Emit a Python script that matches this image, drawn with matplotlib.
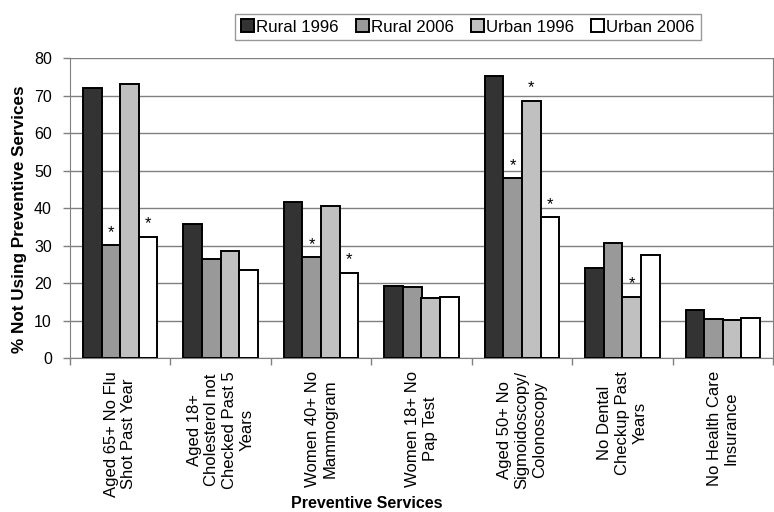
import matplotlib
matplotlib.use("Agg")
import matplotlib.pyplot as plt
import numpy as np

plt.rcParams['font.family'] = ['Liberation Sans', 'DejaVu Sans']

categories = [
    "Aged 65+ No Flu\nShot Past Year",
    "Aged 18+\nCholesterol not\nChecked Past 5\nYears",
    "Women 40+ No\nMammogram",
    "Women 18+ No\nPap Test",
    "Aged 50+ No\nSigmoidoscopy/\nColonoscopy",
    "No Dental\nCheckup Past\nYears",
    "No Health Care\nInsurance",
]
series_names = ["Rural 1996", "Rural 2006", "Urban 1996", "Urban 2006"]
rural_1996 = [72.2, 35.7, 41.8, 19.3, 75.4, 24.0, 12.9]
rural_2006 = [30.1, 26.6, 26.9, 19.0, 48.0, 30.8, 10.6]
urban_1996 = [73.2, 28.7, 40.6, 16.0, 68.6, 16.3, 10.1]
urban_2006 = [32.4, 23.5, 22.8, 16.3, 37.6, 27.6, 10.7]
# significance markers: (category index, series index)
significant = [(0, 1), (0, 3), (2, 1), (2, 3), (4, 1), (4, 2), (4, 3), (5, 2)]

colors = ["#333333", "#999999", "#c0c0c0", "#ffffff"]
values = [rural_1996, rural_2006, urban_1996, urban_2006]

fig = plt.figure(figsize=(7.74, 5.12), dpi=100)
ax = fig.add_axes([70/774, 1-358.3/512, 703/774, 300/512])

n = len(categories)
x = np.arange(n)
bw = 0.185
offsets = (np.arange(4) - 1.5) * bw
bars = []
for i, (vals, c, name) in enumerate(zip(values, colors, series_names)):
    b = ax.bar(x + offsets[i], vals, bw, color=c, edgecolor="black", linewidth=1.4,
               label=name, zorder=3)
    bars.append(b)

for ci, si in significant:
    v = values[si][ci]
    ax.annotate("*", (x[ci] + offsets[si], v), xytext=(0, 4), textcoords="offset points",
                ha="center", va="bottom", fontsize=12, zorder=4)

ax.set_xlim(-0.5, n - 0.5)
ax.set_ylim(0, 80)
ax.set_yticks(np.arange(0, 81, 10))
ax.yaxis.grid(True, color="#808080", linewidth=1.0, zorder=0)
ax.set_axisbelow(True)
for s in ["left", "bottom", "right"]:
    ax.spines[s].set_color("#808080")
ax.spines["top"].set_visible(False)
ax.tick_params(axis="y", colors="#808080", labelcolor="black", labelsize=11.5,
               length=5, width=1, pad=8)

ax.set_xticks(x)
ax.set_xticklabels(categories, rotation=90, fontsize=12, va="top", ha="center",
                   multialignment="center")
ax.tick_params(axis="x", which="major", length=0, pad=9)
ax.set_xticks(np.arange(-0.5, n, 1.0), minor=True)
ax.tick_params(axis="x", which="minor", length=5, color="#808080", width=1)

fig.text(20/774, 1-219/512, "% Not Using Preventive Services", fontsize=12.3,
         fontweight="bold", rotation=90, ha="center", va="center")
fig.text(367/774, 1-503/512, "Preventive Services", fontsize=11.5, fontweight="bold",
         ha="center", va="center")

leg = fig.legend(handles=bars, labels=series_names, loc="center", ncol=4,
                 bbox_to_anchor=(468/774, 1-27/512), fontsize=12.2, frameon=True,
                 fancybox=False, handlelength=0.75, handleheight=0.75, handletextpad=0.15,
                 columnspacing=1.0, borderpad=0.35)
leg.get_frame().set_edgecolor("#808080")
leg.get_frame().set_linewidth(1.0)

fig.savefig("out.png", dpi=100)
